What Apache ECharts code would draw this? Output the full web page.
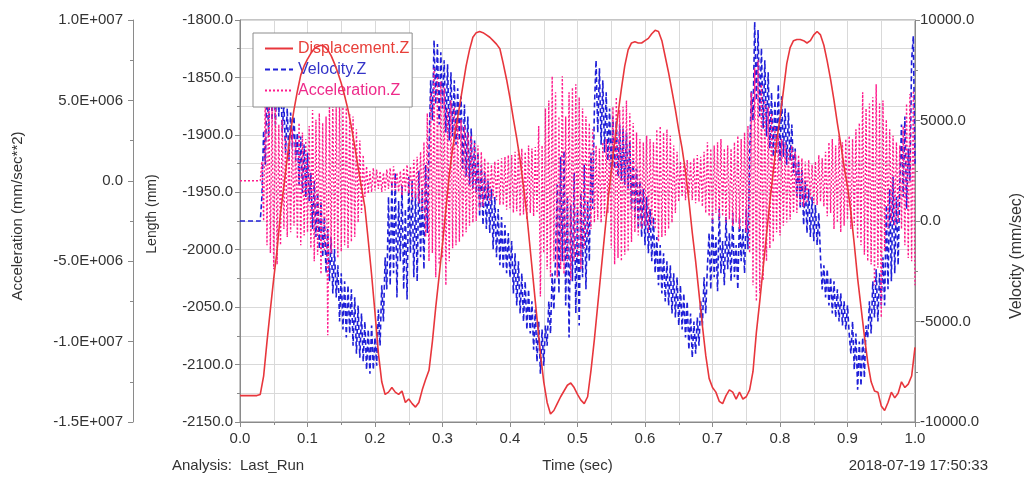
<!DOCTYPE html>
<html>
<head>
<meta charset="utf-8">
<title>Displacement / Velocity / Acceleration Z</title>
<script src="https://cdn.jsdelivr.net/npm/echarts@6/dist/echarts.min.js"></script>
<style>
  html, body { margin: 0; padding: 0; background: #ffffff; }
  #chart { width: 1025px; height: 478px; }
</style>
</head>
<body>
<div id="chart"></div>
<script>
// Sampling intervals (sec)
const displacementStep = 0.005;
const velocityStep = 0.0025;
const accelStep = 0.0025;

// Displacement.Z (mm)
const displacementZ = [
  -2127, -2127, -2127, -2127, -2127, -2127, -2126,
  -2110, -2080, -2052, -2025, -2000, -1968, -1945, -1920, -1897, -1878,
  -1862, -1848, -1840, -1834, -1829, -1825, -1823, -1822, -1823, -1826,
  -1831, -1838, -1846, -1855, -1866, -1878, -1893, -1910, -1928, -1946,
  -1963, -1992, -2022, -2055, -2090, -2115, -2126, -2124, -2120, -2124,
  -2126, -2123, -2133, -2130, -2134, -2137, -2133, -2122, -2113, -2105,
  -2080, -2050, -2023, -1995, -1965, -1935, -1912, -1893, -1876, -1858,
  -1840, -1826, -1815, -1811, -1810, -1811, -1813, -1815, -1818, -1821,
  -1825, -1838, -1852, -1868, -1886, -1903, -1922, -1945, -1970, -2000,
  -2030, -2060, -2090, -2115, -2133, -2143, -2140, -2134, -2128, -2123,
  -2118, -2116, -2120, -2126, -2131, -2134, -2128, -2105, -2078, -2048,
  -2018, -1988, -1958, -1932, -1906, -1882, -1860, -1840, -1826, -1820,
  -1819, -1820, -1820, -1818, -1816, -1812, -1809, -1810, -1818, -1832,
  -1846, -1862, -1878, -1896, -1912, -1932, -1957, -1985, -2010, -2038,
  -2066, -2092, -2112, -2120, -2124, -2132, -2134, -2127, -2122, -2124,
  -2130, -2124, -2130, -2128, -2122, -2106, -2072, -2045, -2016, -1987,
  -1958, -1932, -1906, -1885, -1862, -1838, -1824, -1818, -1817, -1817,
  -1818, -1820, -1818, -1813, -1810, -1813, -1822, -1836, -1852, -1870,
  -1890, -1908, -1928, -1945, -1967, -1995, -2025, -2050, -2075, -2098,
  -2115, -2123, -2124, -2136, -2140, -2133, -2124, -2129, -2125, -2115,
  -2120, -2117, -2110, -2085
];

// Velocity.Z (mm/sec)
const velocityZ = [
  0, 0, 0, 0, 0, 0, 0, 0, 0, 0, 0, 0, 0,
  1200, 4500, 2800, 7000, 4200, 8600, 5000, 8200, 4800, 7600, 5200, 7800, 4400,
  5800, 3400, 5600, 3000, 5400, 3600, 5200, 3000,
  4400, 1800, 4200, 1400, 3800, 1200, 3400, 1000,
  2400, -400, 2000, -800, 1400, -1400, 1000, -1800,
  200, -2600, -400, -3000, -800, -3600, -1400, -3800,
  -2200, -5000, -2600, -5400, -3000, -5800, -3200, -5600,
  -3400, -6200, -3800, -6600, -4200, -6800, -4600, -7000,
  -5000, -7400, -5400, -7600, -5200, -7400, -5800, -7200,
  -4400, -6200, -3200, -5000, -1800, -3400,
  1200, -3200, 2000, -2600, 2400, -3800, 1000, -2000, 1800, -3400,
  600, -3900, 2200, -1600, 2000, -2800, 1400, -3000, 2500, -1800,
  1600, -2400, 2800, -600,
  3500, 7000, 5000, 9000, 5800, 8800, 4800, 8400, 5600, 8000,
  4400, 7800, 4000, 7400, 4200, 7000, 3800, 6600, 4000, 6200,
  2600, 5800, 2200, 5200, 1800, 4600, 1600, 4000, 1400, 3400,
  200, 2800, -200, 2400, -400, 2000, -600, 1600,
  -1400, 1200, -1800, 600, -2200, 200, -2400, -200, -2600, -600, -2800, -1000,
  -3600, -1600, -4200, -2000, -4600, -2600, -5000, -3000, -5400, -3400,
  -5600, -4000, -6400, -4400, -7000, -5000, -7600, -5400, -7200, -5200,
  -6200, -4000, -5600, -2600, -4400, -1800,
  1800, -3600, 3200, -2000, 3500, -4200, 1200, -5800, 800, -3000,
  2400, -4600, 600, -5200, 1400, -2800, 2800, -3400, 1000, -2000,
  3400, 600,
  5600, 8000, 4400, 7600, 3800, 7000, 3400, 6400,
  3000, 5600, 2400, 5200, 2600, 5000, 2200, 4800, 2000, 4600, 1800, 4400, 1600, 4000,
  600, 3000, 200, 2600, -400, 2000, -800, 1600, -1200, 1200, -1600, 600, -2000, 200,
  -2600, -800, -3200, -1200, -3600, -1600, -4000, -2000, -4200, -2200,
  -4600, -2600, -4800, -2800, -5200, -3200, -5400, -3600, -5800, -4000,
  -6400, -4600, -6800, -5000, -6600, -4800, -6200, -4000, -5200, -2800, -4600, -2200,
  -600, -3400, 400, -2800, -800, -3500, 600, -2600, -1000, -3200,
  200, -2400, -600, -3000, 400, -2800, -1200, -3400, 200, -2000,
  -400, -2600, 600, -1400,
  3000, 6500, 5000, 9900, 6000, 9500, 5200, 8600, 4600, 8000, 4200, 7400,
  3600, 6400, 3200, 6000, 3400, 6800, 3000, 6200, 3200, 5600, 2800, 5400, 3000, 4800,
  2400, 3600, 1200, 3000, 600, 2600, -200, 2000, -600, 1600, -800, 1200, -1000, 800, -1200, 400,
  -1800, -3400, -2200, -3800, -2400, -4200, -2800, -4600, -3000, -4800,
  -3400, -5000, -3600, -5200, -4000, -5400, -4200, -5600,
  -6600, -5000, -7400, -5600, -8400, -6000, -8200, -5800, -7800, -5200,
  -5800, -4000, -5600, -3000, -4800, -2400, -5000, -2600, -4200, -1800,
  -4200, 800, -3400, 1600, -3000, 2200, -2600, 1200, -2200, 1800,
  4800, 1200, 5200, 600, 3600, 2000, 8000, 9200,
  2800
];

// Acceleration.Z in units of 1.0E+006 mm/sec**2
const accelerationZ_e6 = [
  0, 0, 0, 0, 0, 0, 0, 0, 0, 0, 0, 0, 0,
  1.2, -2.5, 5.5, -4.0, 6.0, -4.5, 4.8, -5.5, 5.0, -5.2, 3.5, -4.0, 3.8,
  -3.0, 2.8, -3.5, 2.4, -3.2, 3.2, -2.8, 2.6,
  -3.6, 3.6, -4.0, 3.0, -3.4, 2.6, -3.2, 3.4,
  -4.2, 4.4, -5.0, 3.8, -4.6, 4.2, -5.8, 3.6, -4.4, 4.0,
  -9.6,
  4.8, -4.5, 5.0, -4.2, 4.6, -4.8, 5.2, -4.4, 4.6, -4.0, 4.8, -4.2, 4.2, -3.8, 4.0, -3.5, 3.2,
  -2.6, 2.5, -2.0, 1.6,
  -1.0, 0.9, -0.8, 0.6, -0.7, 0.8, -0.6, 0.7, -0.5, 0.6,
  -0.7, 0.5, -0.6, 0.7, -0.5, 0.8, -0.6, 0.9, -0.6, 0.5,
  -0.7, 0.6, -0.9, 0.8, -0.7, 1.0, -0.8, 0.9, -1.2, 1.3,
  -1.1, 1.5, -1.4, 1.8, -2.0, 2.4,
  -3.5, 4.2, -5.0, 5.5, -4.5, 7.0, -6.0, 6.5, -5.2, 6.2,
  -4.8, 5.8, -6.5, 4.5, -5.0, 5.0, -4.2, 4.6, -4.0, 4.0,
  -3.8, 3.8, -3.5, 3.4, -3.2, 3.0, -2.8, 2.8, -2.6, 2.4,
  -2.5, 2.2,
  -1.8, 1.8, -1.6, 1.4, -1.2, 1.2, -1.4, 1.0, -1.1, 1.2,
  -1.2, 1.3, -1.5, 1.4, -1.5, 1.5, -1.8, 1.6, -1.7, 1.6,
  -2.0, 1.8, -1.9, 2.0, -2.2, 2.0, -2.1, 1.8, -2.4, 2.2,
  -2.0, 2.0, -2.2, 2.1,
  -2.0, 3.4, -7.2, 2.2,
  -4.5, 4.5, -5.5, 5.0, -6.0, 6.5, -5.0, 5.5, -6.0, 4.0,
  -5.5, 6.5, -5.8, 4.0, -5.0, 5.5, -6.2, 5.8, -5.0, 6.0,
  -4.8, 5.2, -5.5, 4.5, -4.2, 4.0, -3.5, 3.6, -3.0, 3.2,
  -2.6, 2.2, -2.4, 2.0, -2.6, 2.4, -2.2, 2.6, -2.0, 2.4,
  -4.2, 4.6, -5.2, 5.2, -4.8, 4.4, -5.0, 4.6, -4.6, 5.0,
  -4.4, 4.2, -3.8, 3.6, -3.2, 3.0,
  -3.4, 2.6, -3.0, 2.4, -2.8, 2.8, -3.2, 2.6, -2.8, 2.4,
  -3.0, 3.2, -3.8, 3.4, -3.5, 3.0, -3.4, 3.2, -3.0, 2.8,
  -2.6, 2.2, -2.0, 1.8,
  -1.3, 1.2, -1.0, 1.1, -1.2, 1.3, -0.9, 1.2, -1.2, 1.4,
  -1.4, 1.6, -1.3, 1.5, -1.6, 1.8,
  -2.0, 2.4, -2.2, 2.0, -2.6, 2.2, -2.0, 2.4, -2.4, 2.6,
  -2.2, 2.0, -2.6, 2.2, -2.4, 2.0, -2.8, 2.4, -2.6, 2.8,
  -3.0, 2.6, -2.8, 3.0, -3.2, 3.4,
  -4.5, 5.5, -6.5, 7.0, -7.5, 7.5, -7.0, 6.0, -6.2, 5.0,
  -5.0, 4.6, -4.2, 4.2, -3.8, 3.4,
  -3.2, 2.8, -3.4, 2.6, -2.8, 2.4, -2.6, 2.0, -2.4, 2.2,
  -2.0, 1.8, -2.0, 1.6,
  -1.5, 1.4, -1.6, 1.2, -1.4, 1.3, -1.2, 1.0, -1.4, 1.2,
  -1.5, 1.6, -1.3, 1.4, -1.6, 1.8,
  -2.2, 2.4, -2.0, 2.6, -3.0, 2.2, -2.6, 2.8, -3.2, 2.4,
  -2.8, 2.6, -2.4, 2.8, -3.0, 2.6, -2.8, 3.2,
  -3.6, 3.6, -4.0, 5.5, -4.6, 4.5, -5.0, 4.8, -5.2, 5.2,
  -6.5, 6.0, -5.4, 4.8, -8.5, 5.0, -4.4, 3.8,
  -3.0, 3.2, -2.6, 2.8, -2.8, 2.4, -2.6, 2.2, -3.0, 3.4,
  -4.0, 4.8, -4.8, 5.4, -5.0, 5.6, -6.5
];
const accelUnit = 1e6;

// Axis ranges
const timeAxis = { min: 0, max: 1, step: 0.1 };
const lengthAxis = { min: -2150, max: -1800, step: 50 };
const velocityAxis = { min: -10000, max: 10000, step: 5000 };
const accelAxis = { min: -1.5e7, max: 1.0e7, step: 5e6 };

// Captions
const seriesNames = ['Displacement.Z', 'Velocity.Z', 'Acceleration.Z'];
const analysisLabel = 'Analysis:';
const runName = 'Last_Run';
const timeStamp = '2018-07-19 17:50:33';

const FONT = '"Liberation Sans", Arial, Helvetica, sans-serif';
const TEXT = '#333333';
const AXIS = '#8a8a8a';
const GRID = '#d9d9d9';
const RED = '#e8363c';
const BLUE = '#1f1fd8';
const PINK = '#ff1a8c';

function toPairs(values, step, unit) {
  const k = unit || 1;
  return values.map((v, i) => [+(i * step).toFixed(4), v * k]);
}

// 5000000 -> "5.0E+006"
function sciLabel(v) {
  if (v === 0) return '0.0';
  const e = Math.floor(Math.log10(Math.abs(v)) + 1e-9);
  const m = v / Math.pow(10, e);
  return m.toFixed(1) + 'E+' + String(e).padStart(3, '0');
}

function valueAxisBase(range) {
  return {
    type: 'value',
    min: range.min,
    max: range.max,
    interval: range.step,
    axisLine: { show: true, onZero: false, lineStyle: { color: AXIS, width: 1 } },
    axisTick: { show: true, length: 5, lineStyle: { color: AXIS } },
    minorTick: { show: true, splitNumber: 2, length: 3, lineStyle: { color: AXIS } },
    splitLine: { show: false },
    axisLabel: { color: TEXT, fontSize: 15, fontFamily: FONT }
  };
}

const chart = echarts.init(document.getElementById('chart'), null, { renderer: 'canvas' });

const lengthY = Object.assign(valueAxisBase(lengthAxis), {
  position: 'left',
  splitLine: { show: true, lineStyle: { color: GRID, width: 1 } },
  minorSplitLine: { show: true, lineStyle: { color: GRID, width: 1 } }
});
lengthY.axisLabel.formatter = v => v.toFixed(1);
lengthY.axisLabel.margin = 7;

const velocityY = Object.assign(valueAxisBase(velocityAxis), { position: 'right' });
velocityY.axisLabel.formatter = v => v.toFixed(1);
velocityY.axisLabel.margin = 5;

const accelY = Object.assign(valueAxisBase(accelAxis), { position: 'left', offset: 107 });
accelY.axisLabel.formatter = sciLabel;
accelY.axisLabel.margin = 10;

const timeX = Object.assign(valueAxisBase(timeAxis), {
  name: 'Time (sec)',
  nameLocation: 'middle',
  nameGap: 36,
  nameTextStyle: { color: TEXT, fontSize: 15, fontFamily: FONT },
  splitLine: { show: true, lineStyle: { color: GRID, width: 1 } },
  minorSplitLine: { show: true, lineStyle: { color: GRID, width: 1 } }
});
timeX.axisLabel.formatter = v => v.toFixed(1);
timeX.axisLabel.margin = 9;

function sideText(text, x, y, size, rotate, align) {
  return {
    type: 'text',
    x: x,
    y: y,
    rotation: rotate ? Math.PI / 2 : 0,
    silent: true,
    style: {
      text: text,
      fill: TEXT,
      font: size + 'px ' + FONT,
      align: align || 'center',
      textAlign: align || 'center',
      verticalAlign: 'middle',
      textVerticalAlign: 'middle'
    }
  };
}

chart.setOption({
  animation: false,
  backgroundColor: '#ffffff',
  grid: {
    left: 240,
    right: 110,
    top: 20,
    bottom: 55,
    show: true,
    borderColor: AXIS,
    borderWidth: 1,
    backgroundColor: 'transparent'
  },
  legend: {
    orient: 'vertical',
    left: 253,
    top: 33,
    backgroundColor: '#ffffff',
    borderColor: '#8c8c8c',
    borderWidth: 1,
    borderRadius: 0,
    padding: [7, 3, 8, 11],
    itemWidth: 28,
    itemHeight: 12,
    itemGap: 4,
    itemStyle: { opacity: 0 },
    textStyle: { fontSize: 16, fontFamily: FONT, lineHeight: 17 },
    data: [
      { name: seriesNames[0], textStyle: { color: '#e8403a' } },
      { name: seriesNames[1], textStyle: { color: '#3434c8' } },
      { name: seriesNames[2], textStyle: { color: '#ee2a8a' } }
    ]
  },
  xAxis: timeX,
  yAxis: [lengthY, velocityY, accelY],
  series: [
    {
      name: seriesNames[1],
      type: 'line',
      yAxisIndex: 1,
      data: toPairs(velocityZ, velocityStep),
      symbol: 'none',
      showSymbol: false,
      z: 2,
      itemStyle: { color: BLUE },
      lineStyle: { color: BLUE, width: 1.6, type: [5, 3] }
    },
    {
      name: seriesNames[2],
      type: 'line',
      yAxisIndex: 2,
      data: toPairs(accelerationZ_e6, accelStep, accelUnit),
      symbol: 'none',
      showSymbol: false,
      z: 3,
      itemStyle: { color: PINK },
      lineStyle: { color: PINK, width: 1.4, type: [2, 2] }
    },
    {
      name: seriesNames[0],
      type: 'line',
      yAxisIndex: 0,
      data: toPairs(displacementZ, displacementStep),
      symbol: 'none',
      showSymbol: false,
      z: 4,
      itemStyle: { color: RED },
      lineStyle: { color: RED, width: 1.6, type: 'solid' }
    }
  ],
  graphic: [
    sideText('Acceleration (mm/sec**2)', 18, 216, 15, true),
    sideText('Length (mm)', 152, 214, 14, true),
    sideText('Velocity (mm/sec)', 1017, 256, 16, true),
    sideText(analysisLabel, 172, 466, 15, false, 'left'),
    sideText(runName, 240, 466, 15, false, 'left'),
    sideText(timeStamp, 988, 466, 15, false, 'right')
  ]
});
</script>
</body>
</html>
